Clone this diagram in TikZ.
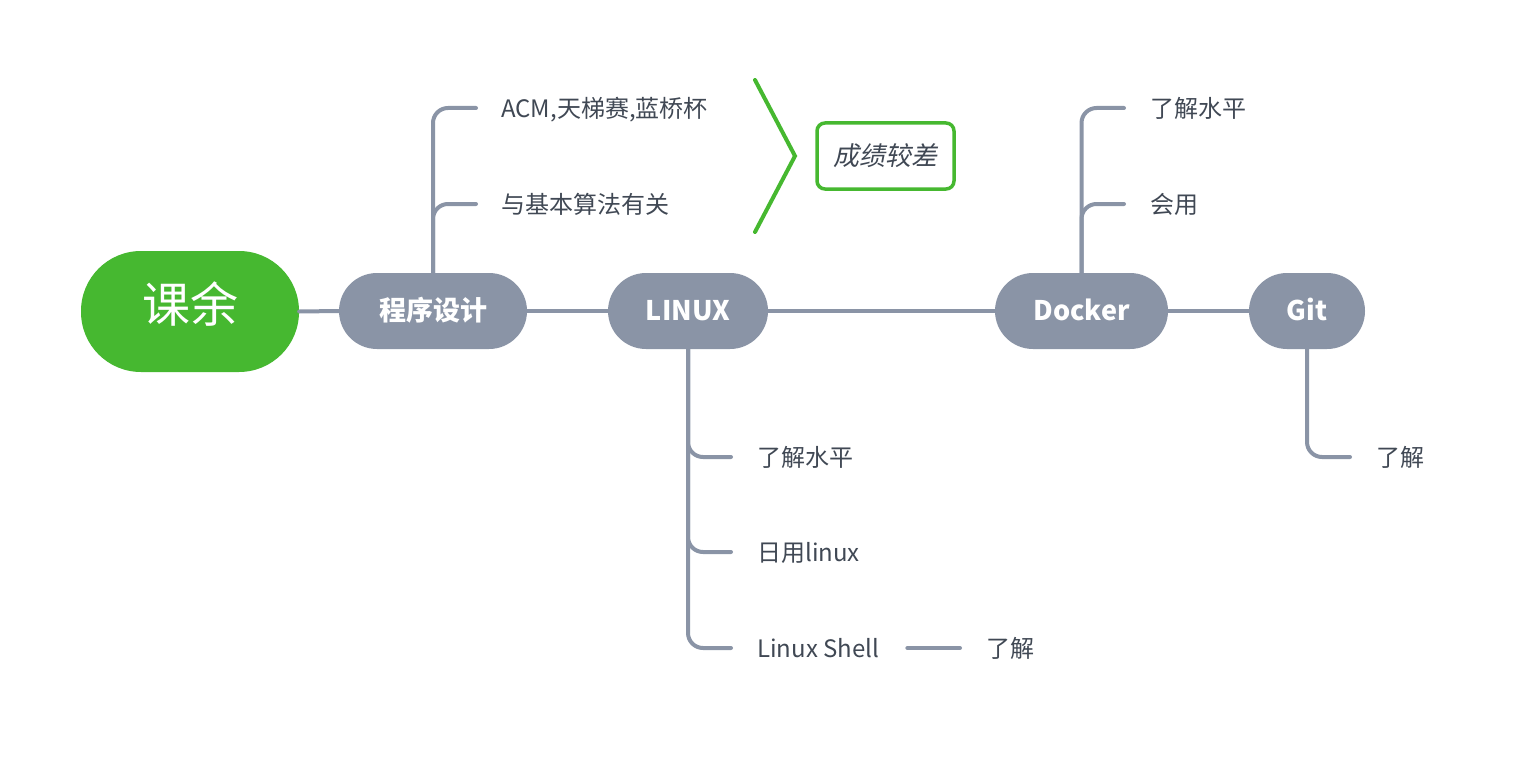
\documentclass[tikz,border=0pt]{standalone}
\usepackage{fontspec}
\setmainfont{Noto Sans CJK SC}
\newfontfamily\slantfont[FakeSlant=0.2]{Noto Sans CJK SC}
\definecolor{rootgreen}{HTML}{46B830}
\definecolor{topic}{HTML}{8A94A6}
\definecolor{txt}{HTML}{404854}
\begin{document}
\begin{tikzpicture}[x=1pt,y=-1pt,
  root/.style={rectangle, rounded corners=60pt, fill=rootgreen, text=white,
    minimum width=218pt, minimum height=121pt, inner sep=0pt,
    font=\fontsize{48}{48}\selectfont, text height=2.2em, text depth=0.04em},
  pill/.style={rectangle, rounded corners=38pt, fill=topic, text=white,
    minimum height=76pt, inner sep=0pt,
    font=\bfseries\fontsize{27}{27}\selectfont, text height=1.9em, text depth=0.04em},
  leaf/.style={anchor=west, inner sep=0pt, text=txt,
    font=\fontsize{24}{24}\selectfont, text height=1.85em, text depth=0.04em},
  link/.style={draw=topic, line width=4pt, rounded corners=15pt, line cap=round},
  resbox/.style={draw=rootgreen, line width=3.5pt, rounded corners=8pt,
    minimum width=137pt, minimum height=66pt, inner sep=0pt, text=txt,
    font=\slantfont\fontsize{26}{26}\selectfont, text height=1.85em, text depth=0.04em},
  brace/.style={draw=rootgreen, line width=4pt, line cap=round}
]
\useasboundingbox (0,0) rectangle (1531,757);

% main topics
\node[root] (root) at (190,311.5) {课余};
\node[pill, minimum width=188pt] (prog) at (433,311) {程序设计};
\node[pill, minimum width=160pt] (linux) at (688,311) {LINUX};
\node[pill, minimum width=173pt] (docker) at (1081.5,311) {Docker};
\node[pill, minimum width=116pt] (git) at (1307,311) {Git};

% leaves
\node[leaf] (acm) at (501,108) {ACM,天梯赛,蓝桥杯};
\node[leaf] (alg) at (501,204) {与基本算法有关};
\node[leaf] (l1) at (757,457) {了解水平};
\node[leaf] (l2) at (757,552) {日用linux};
\node[leaf] (l3) at (757,648) {Linux Shell};
\node[leaf] (l4) at (986,648) {了解};
\node[leaf] (d1) at (1150,108) {了解水平};
\node[leaf] (d2) at (1150,204) {会用};
\node[leaf] (g1) at (1376,457) {了解};

% summary
\node[resbox] (res) at (885.5,156) {成绩较差};
\coordinate (bt) at (755,80);
\coordinate (bm) at (795,156);
\coordinate (bb) at (755,232);
\draw[brace] (bt) -- (bm) -- (bb);

% main connectors
\draw[link] (root.east) -- (prog.west);
\draw[link] (prog.east) -- (linux.west);
\draw[link] (linux.east) -- (docker.west);
\draw[link] (docker.east) -- (git.west);

% branches
\draw[link] (prog.north) |- ([xshift=-25pt]acm.west);
\draw[link] (prog.north) |- ([xshift=-25pt]alg.west);
\draw[link] (linux.south) |- ([xshift=-26pt]l1.west);
\draw[link] (linux.south) |- ([xshift=-26pt]l2.west);
\draw[link] (linux.south) |- ([xshift=-26pt]l3.west);
\draw[link] ([xshift=28pt]l3.east) -- ([xshift=-26pt]l4.west);
\draw[link] (docker.north) |- ([xshift=-26pt]d1.west);
\draw[link] (docker.north) |- ([xshift=-26pt]d2.west);
\draw[link] (git.south) |- ([xshift=-26pt]g1.west);
\end{tikzpicture}
\end{document}
